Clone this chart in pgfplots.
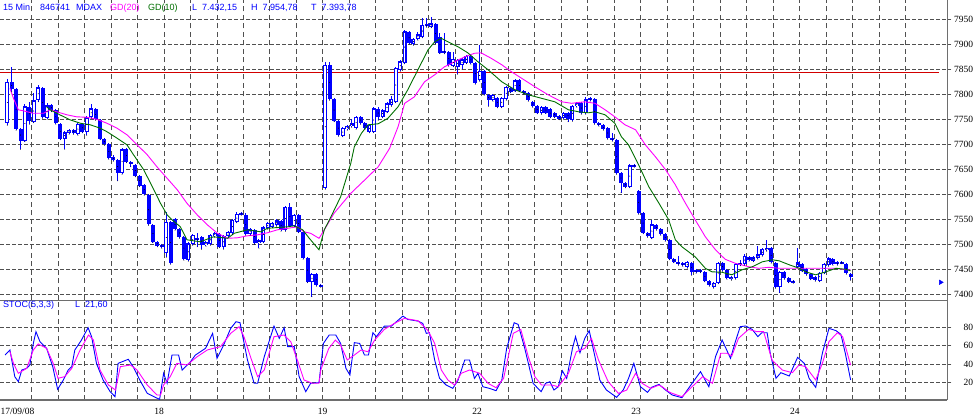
\documentclass[border=0pt]{standalone}
\usepackage{pgfplots}
\pgfplotsset{compat=1.18}
\usepackage{pgfplotstable}
\usepackage{fontspec}
\setmainfont{Liberation Serif}
\newfontfamily\uisans{Liberation Sans}

\definecolor{gridcol}{RGB}{80,80,80}
\definecolor{framecol}{RGB}{110,110,110}
\definecolor{candle}{RGB}{0,0,255}
\definecolor{gdtwenty}{RGB}{255,0,255}
\definecolor{gdten}{RGB}{0,110,0}
\definecolor{levelred}{RGB}{210,0,0}

% 15-min candles: bar index, open, high, low, close
\pgfplotstableread{
i o h l c
0 7742 7830 7738 7825
1 7825 7855 7805 7810
2 7810 7812 7728 7730
3 7730 7732 7690 7707
4 7707 7780 7705 7776
5 7775 7785 7740 7747
6 7745 7802 7743 7788
7 7788 7818 7785 7814
8 7813 7815 7752 7755
9 7752 7782 7750 7778
10 7778 7780 7765 7768
11 7768 7770 7740 7742
12 7741 7743 7709 7711
13 7711 7726 7690 7724
14 7723 7731 7720 7729
15 7728 7730 7720 7722
16 7720 7743 7718 7741
17 7741 7743 7723 7725
18 7725 7756 7718 7754
19 7754 7780 7752 7772
20 7770 7772 7748 7750
21 7749 7751 7709 7711
22 7710 7712 7698 7700
23 7700 7702 7670 7672
24 7675 7678 7666 7668
25 7668 7670 7627 7643
26 7642 7692 7640 7690
27 7690 7692 7663 7665
28 7665 7667 7655 7660
29 7658 7660 7635 7637
30 7637 7639 7615 7617
31 7619 7621 7598 7600
32 7598 7600 7538 7540
33 7538 7540 7503 7505
34 7505 7507 7495 7497
35 7498 7500 7492 7495
36 7482 7565 7474 7545
37 7545 7547 7460 7462
38 7550 7552 7528 7530
39 7530 7532 7512 7515
40 7515 7517 7468 7470
41 7468 7504 7466 7502
42 7500 7520 7498 7518
43 7512 7522 7495 7508
44 7515 7517 7490 7498
45 7498 7507 7496 7505
46 7500 7520 7498 7518
47 7516 7525 7514 7523
48 7521 7523 7493 7495
49 7494 7518 7490 7516
50 7516 7527 7514 7525
51 7522 7550 7520 7548
52 7545 7565 7543 7560
53 7560 7564 7558 7562
54 7558 7562 7518 7520
55 7520 7532 7518 7530
56 7528 7530 7500 7503
57 7502 7510 7492 7508
58 7505 7536 7503 7534
59 7532 7544 7530 7542
60 7535 7544 7533 7542
61 7538 7550 7536 7548
62 7547 7549 7526 7528
63 7528 7576 7526 7574
64 7574 7582 7535 7537
65 7537 7560 7535 7558
66 7558 7560 7523 7525
67 7525 7527 7470 7472
68 7472 7474 7423 7425
69 7424 7442 7395 7440
70 7440 7442 7416 7418
71 7418 7420 7414 7416
72 7612 7865 7610 7858
73 7858 7865 7788 7790
74 7790 7792 7745 7747
75 7747 7749 7716 7718
76 7717 7734 7715 7732
77 7730 7738 7728 7736
78 7736 7750 7734 7743
79 7732 7757 7730 7755
80 7755 7757 7740 7742
81 7742 7744 7730 7732
82 7725 7740 7723 7738
83 7725 7774 7723 7772
84 7770 7774 7748 7755
85 7755 7770 7753 7768
86 7765 7784 7763 7782
87 7778 7797 7776 7790
88 7785 7854 7783 7852
89 7848 7868 7846 7866
90 7863 7928 7861 7926
91 7924 7926 7900 7902
92 7900 7912 7898 7910
93 7910 7924 7908 7920
94 7915 7952 7913 7938
95 7936 7952 7934 7940
96 7935 7955 7933 7942
97 7940 7942 7901 7903
98 7915 7922 7881 7883
99 7883 7922 7881 7887
100 7885 7887 7856 7858
101 7857 7884 7855 7870
102 7855 7870 7840 7868
103 7858 7872 7850 7870
104 7863 7879 7861 7877
105 7876 7878 7860 7862
106 7862 7864 7820 7822
107 7828 7898 7826 7847
108 7847 7849 7798 7800
109 7798 7800 7776 7788
110 7788 7800 7786 7798
111 7793 7795 7773 7775
112 7775 7795 7773 7793
113 7790 7816 7788 7814
114 7812 7814 7803 7805
115 7807 7830 7805 7828
116 7828 7830 7805 7807
117 7807 7809 7800 7802
118 7802 7804 7786 7788
119 7785 7787 7774 7776
120 7776 7778 7761 7763
121 7762 7776 7760 7774
122 7774 7776 7761 7763
123 7770 7772 7753 7755
124 7763 7765 7753 7755
125 7756 7758 7749 7751
126 7752 7765 7750 7763
127 7763 7765 7745 7751
128 7748 7778 7746 7776
129 7776 7785 7774 7783
130 7783 7785 7760 7762
131 7762 7795 7760 7790
132 7788 7795 7786 7792
133 7790 7792 7740 7742
134 7742 7744 7736 7738
135 7738 7740 7728 7730
136 7733 7735 7710 7712
137 7712 7722 7706 7708
138 7708 7710 7640 7642
139 7642 7644 7603 7623
140 7623 7625 7613 7615
141 7615 7660 7613 7658
142 7656 7660 7654 7658
143 7606 7608 7560 7562
144 7562 7564 7521 7523
145 7523 7525 7514 7516
146 7513 7548 7511 7540
147 7538 7540 7528 7530
148 7530 7532 7518 7520
149 7520 7522 7506 7508
150 7508 7510 7469 7471
151 7471 7473 7463 7465
152 7465 7477 7458 7460
153 7462 7464 7456 7458
154 7454 7466 7452 7464
155 7463 7465 7438 7445
156 7448 7450 7442 7444
157 7448 7450 7443 7445
158 7445 7447 7425 7427
159 7427 7429 7416 7418
160 7414 7425 7412 7423
161 7423 7464 7421 7462
162 7462 7464 7446 7448
163 7448 7450 7430 7432
164 7430 7437 7428 7435
165 7432 7462 7430 7460
166 7459 7469 7457 7463
167 7460 7481 7458 7477
168 7475 7477 7466 7468
169 7467 7476 7465 7474
170 7472 7497 7470 7480
171 7478 7492 7476 7490
172 7488 7508 7486 7493
173 7492 7494 7462 7464
174 7462 7464 7412 7414
175 7414 7447 7403 7445
176 7445 7447 7430 7432
177 7432 7434 7423 7425
178 7426 7428 7422 7424
179 7455 7492 7453 7464
180 7460 7462 7445 7447
181 7450 7452 7438 7440
182 7440 7442 7429 7431
183 7434 7436 7426 7428
184 7427 7445 7425 7443
185 7443 7462 7441 7460
186 7458 7474 7456 7472
187 7470 7472 7458 7460
188 7460 7466 7458 7464
189 7462 7466 7461 7465
190 7460 7462 7440 7442
191 7440 7442 7428 7434
}\candles

% GD(20)
\pgfplotstableread{
i v
0.6 7812
1.4 7792
2.5 7769
3.6 7767
5.9 7762
8.2 7762
9.7 7769
11.2 7765
13.5 7759
15.7 7755
18.1 7754
20.3 7750
22.6 7742
24.9 7732
27.1 7719
29.4 7699
31.7 7679
33.9 7655
36.2 7632
38.5 7609
40.7 7582
43.0 7559
45.3 7539
47.6 7522
49.9 7512
52.1 7513
54.4 7517
56.7 7519
58.9 7523
61.2 7529
63.5 7532
65.7 7535
67.2 7525
68.7 7522
70.6 7512
71.8 7529
74.0 7562
77.8 7602
81.7 7635
84.0 7655
86.6 7692
88.5 7735
90.0 7782
92.2 7795
94.5 7825
96.8 7839
99.0 7855
101.3 7865
103.6 7875
105.8 7882
107.3 7883
109.6 7872
112.0 7859
114.2 7845
116.5 7832
119.5 7815
122.5 7799
125.6 7785
127.8 7782
130.8 7785
133.1 7782
135.4 7769
137.6 7755
139.9 7739
142.3 7729
144.5 7699
146.8 7675
149.1 7649
151.3 7619
153.6 7582
155.8 7549
158.1 7515
160.4 7489
162.6 7470
164.9 7462
168.0 7455
170.2 7452
172.5 7454
174.8 7452
180.8 7452
187.7 7452
189.9 7449
191.0 7449
}\gdtwentydata

% GD(10)
\pgfplotstableread{
i v
8.9 7775
9.7 7769
11.9 7759
14.2 7749
16.6 7742
18.8 7739
21.1 7732
22.6 7725
24.9 7712
27.1 7699
28.6 7679
30.9 7649
33.2 7609
34.7 7582
36.2 7559
37.3 7549
39.2 7535
40.7 7509
43.7 7505
46.7 7515
49.9 7512
51.4 7522
54.4 7529
57.4 7525
58.9 7532
63.5 7535
65.0 7537
66.9 7529
68.4 7512
70.6 7489
71.8 7529
73.3 7555
75.5 7595
77.8 7662
78.6 7695
80.2 7722
81.7 7739
84.0 7741
86.2 7752
88.5 7775
90.7 7809
93.0 7849
95.3 7889
96.8 7905
98.3 7912
99.8 7905
102.1 7895
104.3 7883
106.6 7865
108.9 7849
112.0 7825
115.0 7809
118.0 7799
121.0 7792
124.0 7785
127.1 7769
129.4 7765
131.6 7763
133.1 7765
135.4 7759
137.6 7742
139.1 7715
140.7 7699
143.2 7655
145.3 7615
147.6 7582
149.8 7549
151.3 7509
152.8 7495
155.8 7475
158.1 7452
159.6 7445
161.9 7444
164.1 7439
166.4 7449
168.7 7455
171.0 7465
173.3 7469
174.8 7467
177.1 7459
179.4 7452
180.8 7445
183.1 7439
185.4 7445
187.7 7452
189.9 7450
191.0 7447
}\gdtendata

% STOC(5,3,3) %K
\pgfplotstableread{
i v
-0.5 50.0
0.6 55.5
1.7 26.6
2.5 21.2
3.3 33.8
4.4 35.6
5.1 39.2
5.9 62.7
6.5 75.3
7.4 64.5
8.9 57.3
10.3 37.4
11.4 12.9
12.7 23.0
13.8 33.8
14.6 37.4
15.3 55.5
16.8 66.3
18.3 79.6
19.1 69.9
20.2 41.0
21.7 23.0
23.3 10.3
24.4 4.9
25.1 41.0
27.4 45.4
28.5 37.4
30.0 23.0
31.7 8.5
33.2 4.9
34.5 2.0
35.4 30.2
36.2 19.4
37.3 50.0
38.8 50.0
39.6 33.8
41.5 42.8
42.6 50.0
44.9 57.3
46.5 73.5
47.5 46.4
49.0 60.9
50.6 78.9
51.8 86.1
52.7 85.1
54.4 44.6
55.9 19.4
56.7 19.4
58.2 48.2
60.4 81.4
61.6 68.1
62.7 79.6
63.5 59.1
65.0 59.1
66.1 26.6
67.6 10.3
68.7 19.4
70.6 20.1
71.6 62.6
72.9 71.7
74.4 71.7
75.5 62.6
76.7 35.6
77.6 28.3
78.6 63.4
79.8 62.6
80.9 50.0
81.8 50.0
82.8 74.2
83.6 69.9
85.4 81.4
87.0 81.4
89.6 92.2
90.7 88.6
93.0 86.8
94.1 84.3
94.9 73.5
95.6 74.2
96.8 44.6
97.9 24.7
99.4 17.5
100.9 13.9
102.1 22.9
103.6 44.6
104.7 44.6
105.8 24.7
106.6 30.2
107.7 15.7
109.2 13.9
110.7 11.4
112.0 22.9
113.1 57.2
114.8 85.0
115.7 83.2
117.2 57.2
119.1 19.3
120.9 10.3
121.9 19.3
122.9 21.1
123.8 12.1
124.8 15.7
125.7 33.0
126.7 24.7
128.0 57.2
128.7 69.9
129.7 52.5
130.8 68.1
131.8 76.4
133.1 48.2
134.2 22.9
135.7 12.1
138.0 4.2
139.5 12.1
140.7 24.7
141.9 41.0
143.4 15.7
145.0 9.6
145.9 15.0
147.6 18.2
149.1 12.1
150.6 6.7
152.8 3.8
155.1 19.4
157.0 32.0
158.9 15.7
160.4 48.2
161.9 66.3
163.8 46.4
164.9 64.5
166.0 80.7
167.2 81.5
168.7 77.8
170.0 69.9
170.9 74.2
172.1 74.2
172.8 51.9
174.1 24.8
175.2 30.9
177.1 27.3
179.0 47.5
180.5 41.0
181.6 24.8
183.1 15.0
184.6 51.9
186.1 78.9
187.7 76.4
188.8 72.4
189.8 51.9
191.0 23.0
}\stocK

% STOC(5,3,3) %D
\pgfplotstableread{
i v
0.6 53.7
1.4 41.0
2.5 30.2
4.4 35.6
5.9 55.5
7.0 62.0
8.9 57.3
10.4 41.0
11.5 24.8
13.0 26.6
14.6 35.6
16.5 55.5
18.4 71.7
19.5 66.3
21.0 33.8
22.9 17.6
24.5 12.1
25.6 37.4
27.9 39.2
29.4 33.8
31.7 17.6
33.9 6.7
34.7 6.7
35.4 17.6
36.9 26.6
38.4 41.0
40.7 39.2
43.0 48.2
45.3 55.5
46.7 57.3
48.3 59.1
50.6 73.5
52.5 80.7
53.6 69.9
55.2 46.4
56.7 26.6
58.2 33.8
60.4 69.9
62.7 71.7
64.2 64.5
65.7 44.6
67.2 23.0
69.1 19.4
70.6 19.4
71.0 33.8
72.8 57.0
74.3 66.2
75.5 60.8
77.0 44.6
78.6 50.0
80.1 55.4
81.7 53.6
83.2 66.2
85.4 77.8
87.7 84.3
89.9 89.7
93.0 87.2
95.2 77.1
96.8 62.6
98.3 33.8
99.8 22.9
101.3 17.5
102.8 30.2
104.7 33.8
107.0 30.2
108.9 19.3
110.7 14.6
112.4 24.7
114.6 73.5
116.3 77.8
118.0 48.2
119.5 26.5
121.0 17.5
123.3 17.5
124.8 15.7
127.1 30.2
128.9 53.6
130.8 57.2
132.3 68.1
133.9 44.6
136.1 21.1
138.4 8.5
140.3 12.1
142.3 30.2
143.8 19.3
145.7 13.9
147.6 17.5
148.3 15.7
149.8 10.3
150.6 8.5
152.8 4.9
155.1 15.7
157.5 26.6
159.7 19.4
161.6 51.9
163.0 51.9
164.1 49.0
165.6 68.1
167.9 77.8
169.8 75.3
171.3 75.3
173.2 44.6
175.5 33.8
177.8 30.9
179.3 39.2
180.8 37.4
183.1 23.0
184.6 41.0
186.1 64.5
188.0 74.2
189.2 69.9
191.0 39.2
}\stocD

\pgfplotsset{
  panel/.style={
    scale only axis, width=947.3pt,
    xmin=-1.65, xmax=212.9,
    axis x line=bottom, axis y line=right,
    axis line style={-, framecol, line width=1.1pt},
    xtick={5.5,11.5,...,203.5}, xticklabels={},
    xmajorgrids, ymajorgrids,
    x grid style={gridcol, line width=1pt, dash pattern=on 5pt off 3.5pt},
    y grid style={gridcol, line width=1pt, dash pattern=on 3.5pt off 2.5pt},
    xtick style={draw=none},
    ytick style={gridcol, line width=1pt},
    tick align=outside, major tick length=4pt,
    scaled y ticks=false,
    /pgf/number format/1000 sep={},
    /pgf/number format/assume math mode=true,
    yticklabel style={font=\fontsize{9.5}{10}\selectfont, anchor=east, inner sep=0pt, xshift=22pt},
  },
  % candles: only the error bars are drawn, the marks are hidden
  wick/.style={only marks, mark=*, mark size=0.1pt, mark options={draw=none, fill=none}, forget plot,
    error bars/.cd, y dir=plus, y explicit, error mark=none,
    error bar style={candle, line width=1pt}},
  body/.style={only marks, mark=*, mark size=0.1pt, mark options={draw=none, fill=none}, forget plot,
    error bars/.cd, y dir=both, y explicit, error mark=none,
    error bar style={#1}},
}

\begin{document}
\begin{tikzpicture}[x=1pt,y=1pt]
\useasboundingbox (0,0) rectangle (978,418);

% price panel
\begin{axis}[panel, at={(0pt,117.7pt)}, anchor=south west, height=300.3pt,
  ymin=7388, ymax=7988.6, ytick={7400,7450,...,7950}]
\addplot[levelred, line width=1.2pt, forget plot] coordinates {(-1.65,7843) (211.1,7843)};
\addplot[wick] table[x=i, y=l, y error expr=\thisrow{h}-\thisrow{l}] {\candles};
\addplot[body={candle, line width=4pt}] table[x=i, y expr=(\thisrow{o}+\thisrow{c})/2,
  y error expr=abs(\thisrow{c}-\thisrow{o})/2] {\candles};
\addplot[body={white, line width=1.6pt}] table[x=i, y expr=(\thisrow{o}+\thisrow{c})/2,
  y error expr={\thisrow{c}>\thisrow{o} ? max((\thisrow{c}-\thisrow{o})/2-2.4,0) : 0}] {\candles};
\addplot[gdtwenty, line width=0.9pt] table[x=i, y=v] {\gdtwentydata};
\addplot[gdten, line width=0.9pt] table[x=i, y=v] {\gdtendata};
\addplot[only marks, mark=triangle*, mark size=2.6pt, mark options={rotate=-90, candle, fill=candle}]
  coordinates {(211.4,7424)};
\end{axis}

% stochastic panel
\begin{axis}[panel, at={(0pt,18pt)}, anchor=south west, height=99.7pt,
  ymin=1.3, ymax=109.3, ytick={20,40,60,80},
  extra x ticks={2.3,34.4,71.4,106.4,142.4,178.4},
  extra x tick labels={17/09/08,18,19,22,23,24},
  extra x tick style={grid=none, xticklabel style={font=\fontsize{9.5}{10}\selectfont, inner sep=0pt, yshift=-4pt}}]
\addplot[candle, line width=0.9pt] table[x=i, y=v] {\stocK};
\addplot[gdtwenty, line width=0.9pt] table[x=i, y=v] {\stocD};
\end{axis}

% header lines
\begin{scope}[every node/.style={anchor=base west, inner sep=0pt, font=\uisans\fontsize{9}{10}\selectfont, text=candle}]
\node at (3,407.7) {15 Min};
\node at (40,407.7) {846741};
\node at (76,407.7) {MDAX};
\node[text=gdtwenty] at (110,407.7) {GD(20)};
\node[text=gdten] at (148,407.7) {GD(10)};
\node at (192,407.7) {L\ \ 7.432,15};
\node at (251,407.7) {H\ \ 7.954,78};
\node at (311,407.7) {T\ \ 7.393,78};
\node at (3,110) {STOC(5,3,3)};
\node at (75,110) {L\ \ 21,60};
\end{scope}
\end{tikzpicture}
\end{document}
